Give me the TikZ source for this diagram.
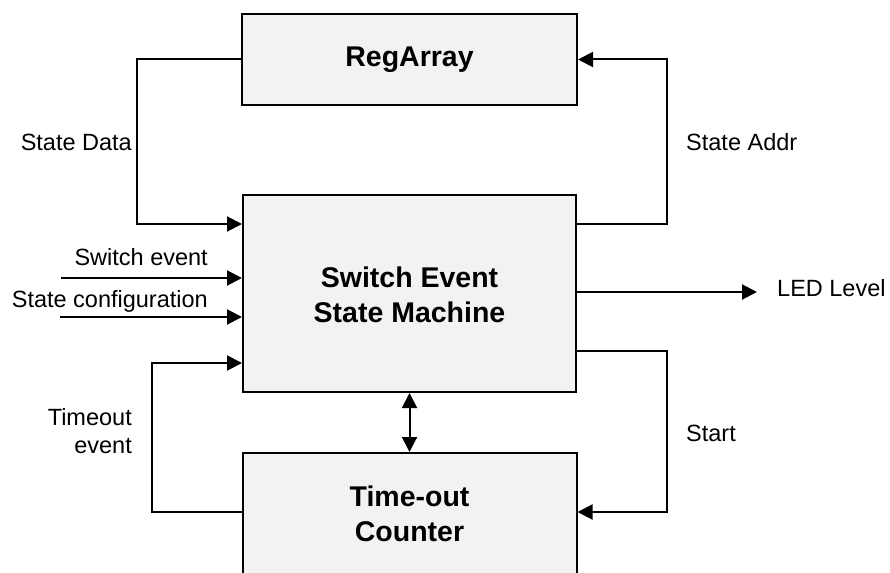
\documentclass[tikz,border=0pt]{standalone}
\usepackage{fontspec}
\setmainfont{Liberation Sans}
\usetikzlibrary{arrows.meta}
\definecolor{boxfill}{HTML}{F2F2F2}
\begin{document}
\begin{tikzpicture}[x=1pt,y=1pt,
  blk/.style={draw=black,line width=2pt,fill=boxfill,rectangle,inner sep=0pt},
  wire/.style={line width=2pt,draw=black},
  tip/.style={},
  arr/.style={wire,-{Triangle[length=15pt,width=15pt]}},
  barr/.style={wire,{Triangle[length=15pt,width=15pt]}-{Triangle[length=15pt,width=15pt]}},
  lbl/.style={font=\fontsize{23.5}{28}\selectfont,inner sep=0pt},
  title/.style={font=\fontsize{28.5}{35}\selectfont\bfseries,align=center,inner sep=0pt}]
\useasboundingbox (0,0) rectangle (890,-572);
\clip (0,0) rectangle (890,-572);
% blocks
\node[blk,minimum width=335pt,minimum height=91pt] (reg) at (409.5,-59.5) {};
\node[title] (regt) at (409.5,-59.5) {RegArray};
\node[blk,minimum width=333pt,minimum height=197pt] (sm) at (409.5,-293.5) {};
\node[title] (smt) at (409.5,-295) {Switch Event\\State Machine};
\node[blk,minimum width=334pt,minimum height=167pt] (tc) at (409.5,-536.5) {};
\node[title] (tct) at (409.5,-514) {Time-out\\Counter};
% free ends
\coordinate (swin) at (61,-278);
\coordinate (cfgin) at (60,-317);
\coordinate (ledout) at (757,-292);
% connectors
\draw[arr] (reg.west) -- ++(-104,0) |- ([yshift=-30pt]sm.north west);
\draw[arr] ([yshift=-30pt]sm.north east) -- ++(90,0) |- (reg.east);
\draw[arr] (swin) -- (swin -| sm.west);
\draw[arr] (cfgin) -- (cfgin -| sm.west);
\draw[arr] (ledout -| sm.east) -- (ledout);
\draw[arr] ([yshift=-157pt]sm.north east) -- ++(90,0) |- ([yshift=-60pt]tc.north east);
\draw[arr] ([yshift=-60pt]tc.north west) -- ++(-90,0) |- ([yshift=30pt]sm.south west);
\draw[barr] (sm.south) -- (tc.north);
% labels
\node[lbl,anchor=east] (lsd) at (132,-142) {State Data};
\node[lbl,anchor=west] (lsa) at (686,-142) {State Addr};
\node[lbl,anchor=east] (lsw) at (208,-257) {Switch event};
\node[lbl,anchor=east] (lcf) at (208,-301) {State configuration};
\node[lbl,anchor=west] (lled) at (777,-288) {LED Level};
\node[lbl,anchor=west] (lst) at (686,-433) {Start};
\node[lbl,anchor=east] (lto1) at (132,-417) {Timeout};
\node[lbl,anchor=east] (lto2) at (132,-446) {event};
\end{tikzpicture}
\end{document}
